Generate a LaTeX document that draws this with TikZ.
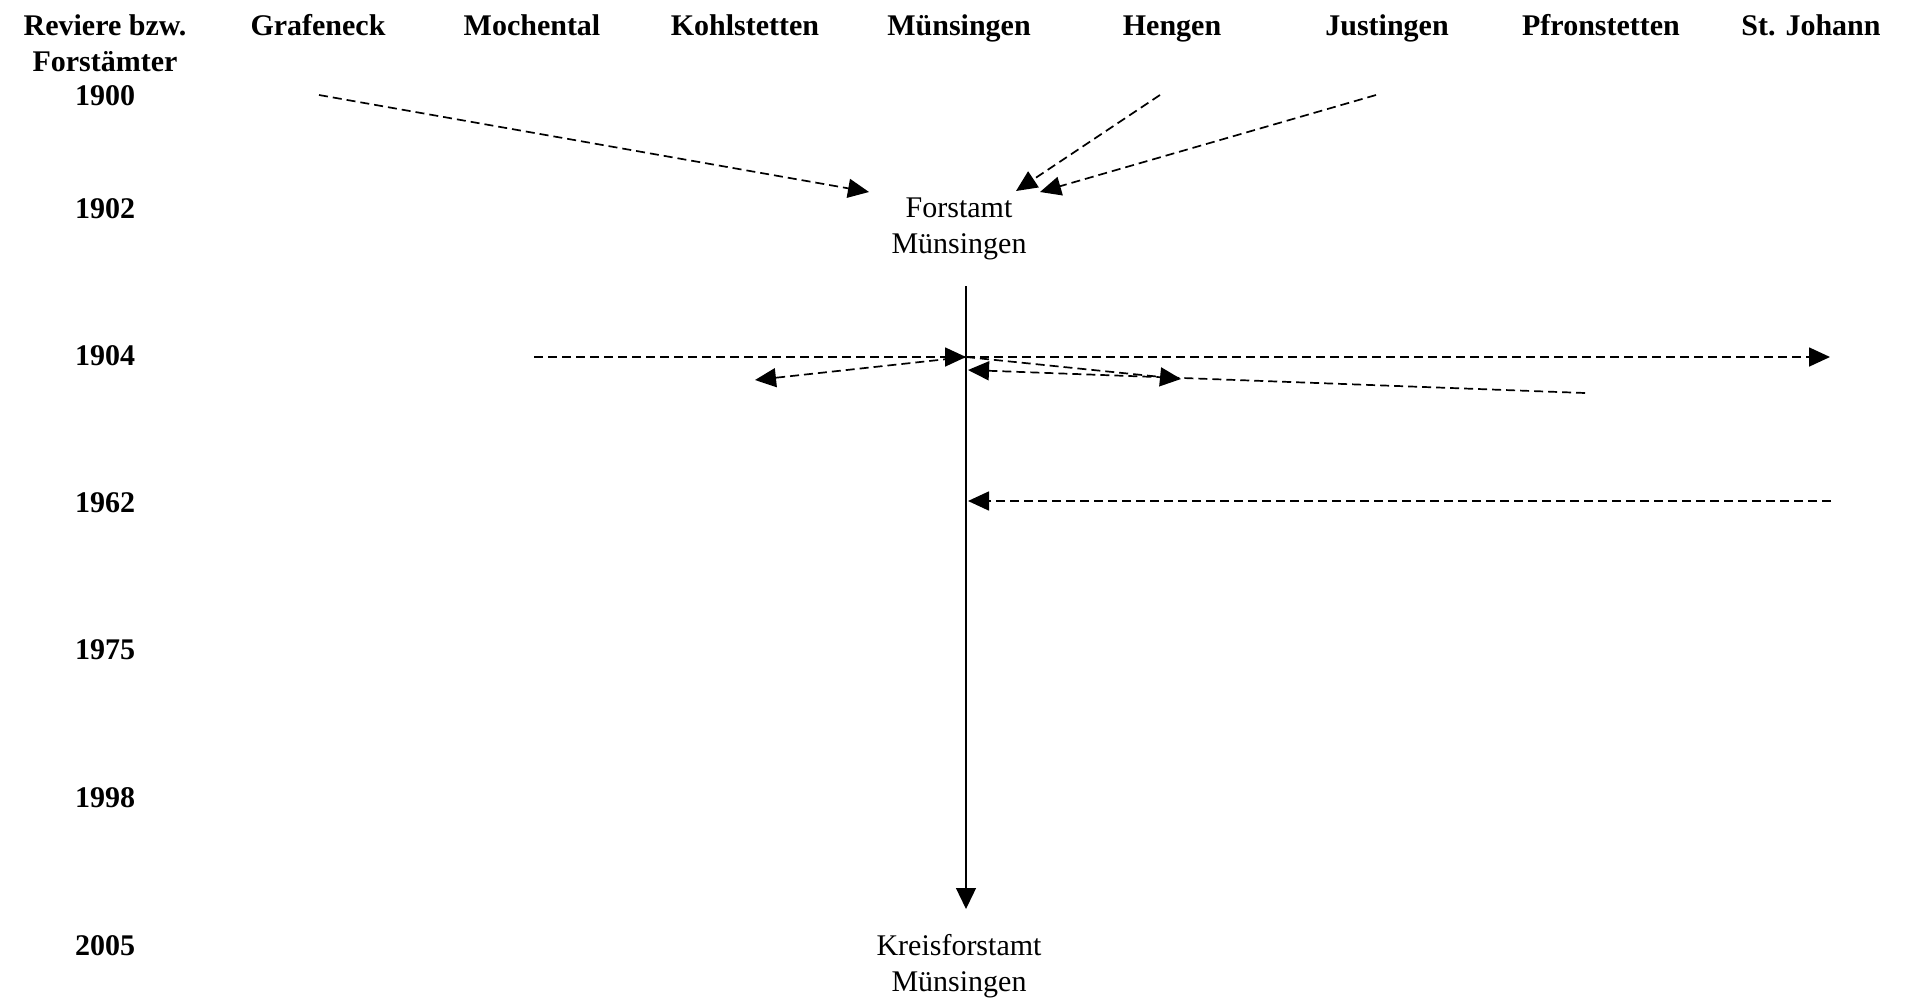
\documentclass[tikz,border=0pt]{standalone}
\usepackage{fontspec}
\setmainfont{Liberation Serif}
\usetikzlibrary{arrows.meta}
\begin{document}
\begin{tikzpicture}[x=1pt,y=-1pt,
  lbl/.style={inner sep=0pt, anchor=base, font=\fontsize{30}{36}\selectfont},
  hdr/.style={inner sep=0pt, anchor=base, font=\fontsize{30}{36}\selectfont\bfseries},
  dasharrow/.style={line width=1.7pt, dash pattern=on 9pt off 5pt, -{Triangle[length=21pt,width=19pt]}},
  solidarrow/.style={line width=1.3pt, -{Triangle[length=21pt,width=20pt]}}]
\useasboundingbox (0,0) rectangle (1908,1001);
% header row
\node[hdr] (rev) at (105,35) {\begin{tabular}[t]{@{}c@{}}Reviere bzw.\\Forstämter\end{tabular}};
\node[hdr] (hgraf) at (318,35) {Grafeneck};
\node[hdr] (hmoch) at (532,35) {Mochental};
\node[hdr] (hkohl) at (745,35) {Kohlstetten};
\node[hdr] (hmuen) at (959,35) {Münsingen};
\node[hdr] (hheng) at (1172,35) {Hengen};
\node[hdr] (hjust) at (1387,35) {Justingen};
\node[hdr] (hpfr) at (1601,35) {Pfronstetten};
\node[hdr] (hsj) at (1811,35) {St. Johann};
% years
\node[hdr] (y1900) at (105,105) {1900};
\node[hdr] (y1902) at (105,218) {1902};
\node[hdr] (y1904) at (105,365) {1904};
\node[hdr] (y1962) at (105,512) {1962};
\node[hdr] (y1975) at (105,659) {1975};
\node[hdr] (y1998) at (105,807) {1998};
\node[hdr] (y2005) at (105,955) {2005};
% offices
\node[lbl] (fa) at (959,217) {\begin{tabular}[t]{@{}c@{}}Forstamt\\Münsingen\end{tabular}};
\node[lbl] (kfa) at (959,955) {\begin{tabular}[t]{@{}c@{}}Kreisforstamt\\Münsingen\end{tabular}};
% connector end points
\coordinate (g0) at (319,95);  \coordinate (g1) at (869,192);
\coordinate (h0) at (1160,95); \coordinate (h1) at (1016,191);
\coordinate (j0) at (1376,95); \coordinate (j1) at (1040,192);
\coordinate (m0) at (534,357); \coordinate (mx) at (966,357);
\coordinate (sj1) at (1830,357);
\coordinate (k1) at (755,380);
\coordinate (he1) at (1181,379);
\coordinate (p0) at (1585,393); \coordinate (p1) at (968,370);
\coordinate (s0) at (1831,501); \coordinate (s1) at (968,501);
\coordinate (v0) at (966,286); \coordinate (v1) at (966,909);
% connectors
\draw[dasharrow] (g0) -- (g1);
\draw[dasharrow] (h0) -- (h1);
\draw[dasharrow] (j0) -- (j1);
\draw[dasharrow] (m0) -- (mx);
\draw[dasharrow] (mx) -- (sj1);
\draw[dasharrow] (mx) -- (k1);
\draw[dasharrow] (mx) -- (he1);
\draw[dasharrow] (p0) -- (p1);
\draw[dasharrow] (s0) -- (s1);
\draw[solidarrow] (v0) -- (v1);
\end{tikzpicture}
\end{document}
